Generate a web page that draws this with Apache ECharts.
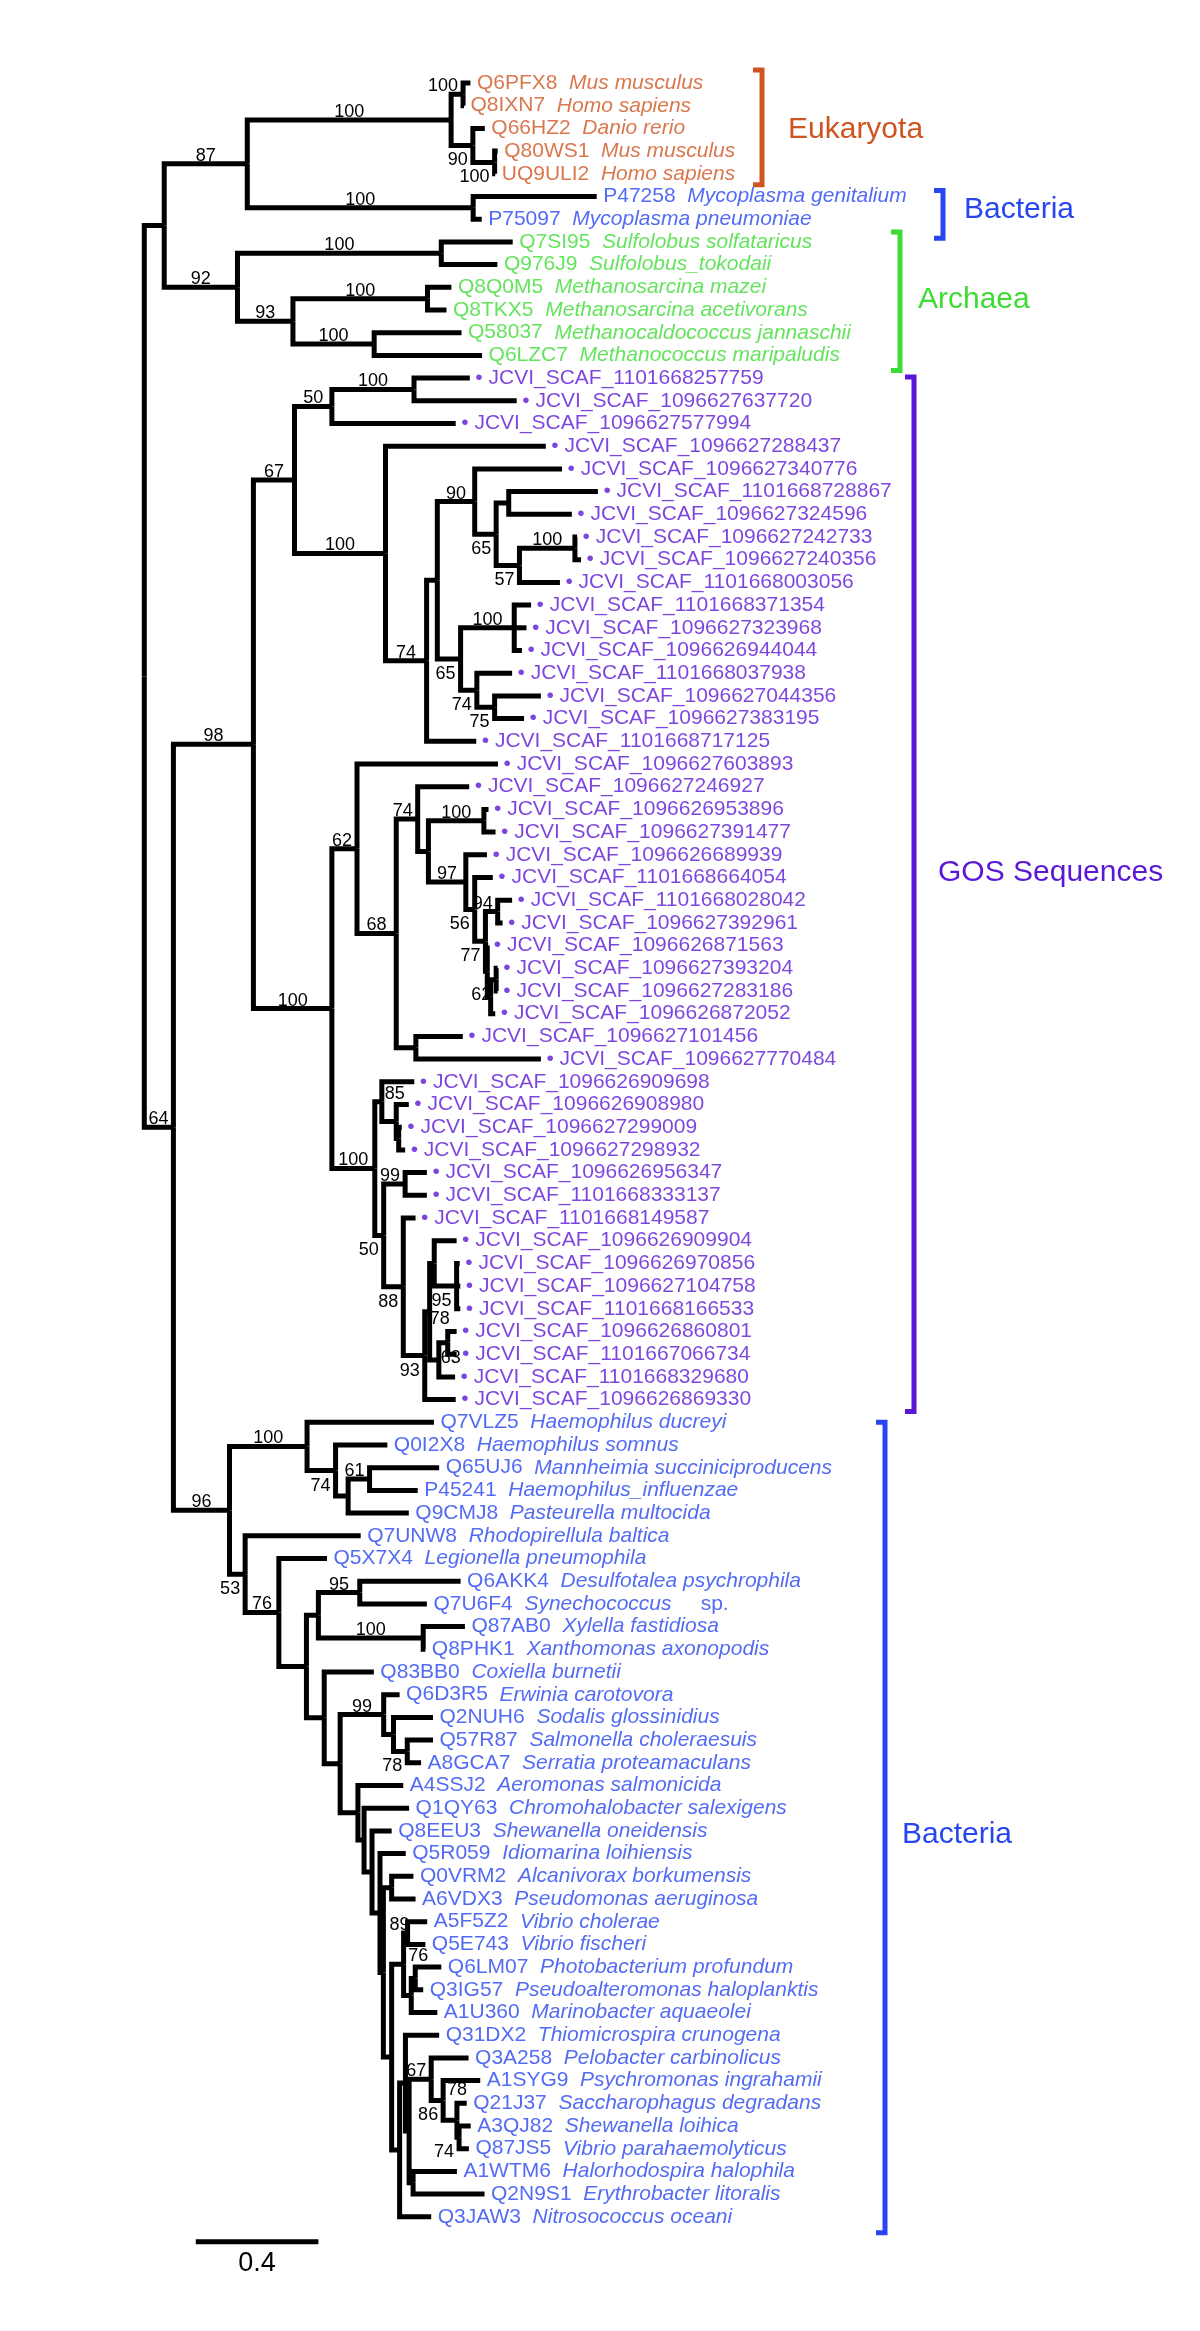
<!DOCTYPE html>
<html>
<head>
<meta charset="utf-8">
<script src="https://cdn.jsdelivr.net/npm/echarts@6/dist/echarts.min.js"></script>
<style>
html,body{margin:0;padding:0;background:#ffffff;}
#chart{width:1200px;height:2331px;}
</style>
</head>
<body>
<div id="chart"></div>
<script>
// ---------------- DATA ----------------
const eukaryota = [
  ["Q6PFX8","Mus musculus"],["Q8IXN7","Homo sapiens"],["Q66HZ2","Danio rerio"],
  ["Q80WS1","Mus musculus"],["UQ9ULI2","Homo sapiens"]
];
const archaea = [
  ["Q7SI95","Sulfolobus solfataricus"],["Q976J9","Sulfolobus_tokodaii"],
  ["Q8Q0M5","Methanosarcina mazei"],["Q8TKX5","Methanosarcina acetivorans"],
  ["Q58037","Methanocaldococcus jannaschii"],["Q6LZC7","Methanococcus maripaludis"]
];
const bacteria = [
  ["P47258","Mycoplasma genitalium"],["P75097","Mycoplasma pneumoniae"],
  ["Q7VLZ5","Haemophilus ducreyi"],["Q0I2X8","Haemophilus somnus"],
  ["Q65UJ6","Mannheimia succiniciproducens"],["P45241","Haemophilus_influenzae"],
  ["Q9CMJ8","Pasteurella multocida"],["Q7UNW8","Rhodopirellula baltica"],
  ["Q5X7X4","Legionella pneumophila"],["Q6AKK4","Desulfotalea psychrophila"],
  ["Q7U6F4","Synechococcus sp."],["Q87AB0","Xylella fastidiosa"],
  ["Q8PHK1","Xanthomonas axonopodis"],["Q83BB0","Coxiella burnetii"],
  ["Q6D3R5","Erwinia carotovora"],["Q2NUH6","Sodalis glossinidius"],
  ["Q57R87","Salmonella choleraesuis"],["A8GCA7","Serratia proteamaculans"],
  ["A4SSJ2","Aeromonas salmonicida"],["Q1QY63","Chromohalobacter salexigens"],
  ["Q8EEU3","Shewanella oneidensis"],["Q5R059","Idiomarina loihiensis"],
  ["Q0VRM2","Alcanivorax borkumensis"],["A6VDX3","Pseudomonas aeruginosa"],
  ["A5F5Z2","Vibrio cholerae"],["Q5E743","Vibrio fischeri"],
  ["Q6LM07","Photobacterium profundum"],["Q3IG57","Pseudoalteromonas haloplanktis"],
  ["A1U360","Marinobacter aquaeolei"],["Q31DX2","Thiomicrospira crunogena"],
  ["Q3A258","Pelobacter carbinolicus"],["A1SYG9","Psychromonas ingrahamii"],
  ["Q21J37","Saccharophagus degradans"],["A3QJ82","Shewanella loihica"],
  ["Q87JS5","Vibrio parahaemolyticus"],["A1WTM6","Halorhodospira halophila"],
  ["Q2N9S1","Erythrobacter litoralis"],["Q3JAW3","Nitrosococcus oceani"]
];
const gosScaffolds = [
  "1101668257759","1096627637720","1096627577994","1096627288437","1096627340776",
  "1101668728867","1096627324596","1096627242733","1096627240356","1101668003056",
  "1101668371354","1096627323968","1096626944044","1101668037938","1096627044356",
  "1096627383195","1101668717125","1096627603893","1096627246927","1096626953896",
  "1096627391477","1096626689939","1101668664054","1101668028042","1096627392961",
  "1096626871563","1096627393204","1096627283186","1096626872052","1096627101456",
  "1096627770484","1096626909698","1096626908980","1096627299009","1096627298932",
  "1096626956347","1101668333137","1101668149587","1096626909904","1096626970856",
  "1096627104758","1101668166533","1096626860801","1101667066734","1101668329680",
  "1096626869330"
];

// Tree topology, bootstrap values and branch lengths (Newick pieces)
const eukaryotaTree = "((Q6PFX8:0.024,Q8IXN7:0.003)100:0.039,(Q66HZ2:0.039,(Q80WS1:0.010,UQ9ULI2:0.002)100:0.071)90:0.071)100";
const mycoplasmaTree = "(P47258:0.403,P75097:0.028)100";
const archaeaTree = "((Q7SI95:0.233,Q976J9:0.183)100:0.665,((Q8Q0M5:0.078,Q8TKX5:0.062)100:0.439,(Q58037:0.285,Q6LZC7:0.352)100:0.265)93:0.181)92";

const gos50 = "((1101668257759:0.182,1096627637720:0.335)100:0.268,1096627577994:0.404)50";
const gos65 = "((1096627340776:0.285,((1101668728867:0.291,1096627324596:0.206):0.041,((1096627242733:0.007,1096627240356:0.020)100:0.181,1101668003056:0.132)57:0.076)65:0.070)90:0.122,((1101668371354:0.055,1096627323968:0.040,1096626944044:0.025)100:0.175,(1101668037938:0.115,(1096627044356:0.151,1096627383195:0.096)75:0.058)74:0.053)65:0.076)";
const gosCladeA = `(${gos50}:0.122,(1096627288437:0.523,(${gos65}:0.035,1101668717125:0.162)74:0.134)100:0.297)67`;

const gos77 = "((1101668028042:0.047,1096627392961:0.016)94:0.040,(1096626871563:0.003,((1096627393204:0.005,1096627283186:0.005)62:0.018,1096626872052:0.015):0.011):0.006)77";
const gos97 = `(1096626689939:0.069,(1101668664054:0.059,${gos77}:0.035)56:0.029)97`;
const gos74 = `(1096627246927:0.168,((1096626953896:0.015,1096627391477:0.038)100:0.181,${gos97}:0.122):0.035)74`;
const gosCladeB = `(1096627603893:0.460,(${gos74}:0.070,(1096627101456:0.153,1096627770484:0.408):0.064)68:0.128)62`;

const gos85 = "(1096626909698:0.106,(1096626908980:0.041,(1096627299009:0.010,1096627298932:0.021):0.008):0.047)85";
const gos78 = "((1096626909904:0.073,(1096626970856:0.010,1096627104758:0.012,1101668166533:0.012)95:0.073):0.015,((1096626860801:0.029,1101667066734:0.029)63:0.029,1101668329680:0.053):0.030)78";
const gosCladeC = `(${gos85}:0.023,((1096626956347:0.071,1101668333137:0.071)99:0.070,(1101668149587:0.040,(${gos78}:0.016,1096626869330:0.101)93:0.070)88:0.064)50:0.029)100`;

const gosTree = `(${gosCladeA}:0.134,(${gosCladeB}:0.082,${gosCladeC}:0.140)100:0.256)98`;

const bactLower = "((Q31DX2:0.110,((Q3A258:0.122,(A1SYG9:0.121,(Q21J37:0.032,(A3QJ82:0.038,Q87JS5:0.032)74:0.007)78:0.045)86:0.039)67:0.072,(A1WTM6:0.143,Q2N9S1:0.233):0.013):0.012):0.019,Q3JAW3:0.103)";
const bactVibrio = "((A5F5Z2:0.064,Q5E743:0.058)89:0.013,((Q6LM07:0.085,Q3IG57:0.026)76:0.013,A1U360:0.085):0.025)";
const bactGamma = `(A4SSJ2:0.148,(Q1QY63:0.147,(Q8EEU3:0.064,(Q5R059:0.084,((Q0VRM2:0.071,A6VDX3:0.078):0.027,(${bactVibrio}:0.039,${bactLower}:0.026):0.027):0.011):0.026):0.026):0.020)`;
const bactEntero = "(Q6D3R5:0.052,(Q2NUH6:0.129,(Q57R87:0.084,A8GCA7:0.045)78:0.045):0.032)99";
const bactProteo = `(((Q6AKK4:0.329,Q7U6F4:0.219)95:0.135,(Q87AB0:0.136,Q8PHK1:0.007)100:0.342):0.039,(Q83BB0:0.162,(${bactEntero}:0.142,${bactGamma}:0.058):0.052):0.058)`;
const bactHaem = "(Q7VLZ5:0.414,(Q0I2X8:0.169,((Q65UJ6:0.227,P45241:0.157)61:0.070,Q9CMJ8:0.198):0.041)74:0.093)100";
const bacteriaTree = `(${bactHaem}:0.253,(Q7UNW8:0.377,(Q5X7X4:0.157,${bactProteo}:0.090)76:0.110)53:0.051)96`;

const treeNewick = `(((${eukaryotaTree}:0.665,${mycoplasmaTree}:0.737)87:0.271,${archaeaTree}:0.239):0.065,(${gosTree}:0.261,${bacteriaTree}:0.183)64:0.095);`;

// clade brackets: label, first leaf, last leaf
const clades = [
  ["Eukaryota","Q6PFX8","UQ9ULI2"],
  ["Bacteria","P47258","P75097"],
  ["Archaea","Q7SI95","Q6LZC7"],
  ["GOS Sequences","1101668257759","1096626869330"],
  ["Bacteria","Q7VLZ5","Q3JAW3"]
];
const scaleBar = [0.168, 0.4]; // start, length (substitutions per site)

// ---------------- STYLE ----------------
const FONT = '"Liberation Sans", Arial, Helvetica, sans-serif';
const COLORS = {euk:'#CF5520', bac:'#2846F0', arc:'#3DDC34', gos:'#5B17D6'};
const LINE_W = 5;
const cladeStyle = [
  {x:762, padTop:13, padBottom:11, labelX:788, labelDy:2, color:COLORS.euk},
  {x:943, padTop:6, padBottom:19, labelX:964, labelDy:-5, color:COLORS.bac},
  {x:900, padTop:10, padBottom:15, labelX:918, labelDy:-1, color:COLORS.arc},
  {x:914, padTop:1, padBottom:12, labelX:938, labelDy:-22, color:COLORS.gos},
  {x:885, padTop:0, padBottom:16, labelX:902, labelDy:7, color:COLORS.bac}
];
const bootstrapBelow = ['90@Q66HZ2','100@Q80WS1','65@1101668728867','57@1096627242733',
  '65@1101668371354','74@1101668037938','75@1096627044356','56@1101668664054',
  '77@1101668028042','62@1096627393204','50@1096626956347','88@1101668149587',
  '93@1096626909904','78@1096626909904','95@1096626970856','63@1096626860801',
  '74@Q0I2X8','53@Q7UNW8','78@Q57R87','86@A1SYG9','74@A3QJ82'];
const bootstrapShift = {'85@1096626909698':[28,0], '78@1096626909904':[25,-8],
  '63@1096626860801':[18,0], '76@Q6LM07':[18,-14], '78@Q21J37':[15,-22], '89@A5F5Z2':[7,0]};

// ---------------- TREE PARSING / LAYOUT ----------------
function parseNewick(str) {
  const s = str.replace(/\s+/g, '');
  let i = 0;
  function node() {
    const n = {children: []};
    if (s[i] === '(') {
      i++;
      n.children.push(node());
      while (s[i] === ',') { i++; n.children.push(node()); }
      if (s[i] !== ')') throw new Error('Newick parse error at ' + i);
      i++;
    }
    let name = '';
    while (i < s.length && !',():;'.includes(s[i])) name += s[i++];
    n.name = name;
    n.length = 0;
    if (s[i] === ':') {
      i++;
      let bl = '';
      while (i < s.length && !',();'.includes(s[i])) bl += s[i++];
      n.length = parseFloat(bl);
    }
    return n;
  }
  return node();
}
const tree = parseNewick(treeNewick);
const leaves = [], nodes = [];
(function layout(n, parent) {
  n.parent = parent;
  n.x = parent ? parent.x + n.length : 0;
  nodes.push(n);
  if (!n.children.length) { n.y = leaves.length; leaves.push(n); }
  else {
    n.children.forEach(c => layout(c, n));
    n.y = (n.children[0].y + n.children[n.children.length - 1].y) / 2;
  }
})(tree, null);

const groupOf = {}, speciesOf = {};
eukaryota.forEach(([id, sp]) => { groupOf[id] = 'euk'; speciesOf[id] = sp; });
archaea.forEach(([id, sp]) => { groupOf[id] = 'arc'; speciesOf[id] = sp; });
bacteria.forEach(([id, sp]) => { groupOf[id] = 'bac'; speciesOf[id] = sp; });
gosScaffolds.forEach(id => { groupOf[id] = 'gos'; });
const leafIndex = {};
leaves.forEach(l => leafIndex[l.name] = l.y);

function firstLeaf(n) { while (n.children.length) n = n.children[0]; return n.name; }

const edgeData = nodes.filter(n => n.parent).map(n => [n.parent.x, n.parent.y, n.x, n.y]);
const bootNodes = nodes.filter(n => n.children.length && n.name && n.parent);
const bootData = bootNodes.map(n => [n.parent.x, n.x, n.y]);
const bootText = bootNodes.map(n => n.name);
const bootKey = bootNodes.map(n => n.name + '@' + firstLeaf(n));

const leafData = leaves.map(l => ({
  value: [l.x, l.y], name: l.name, group: groupOf[l.name],
  label: {distance: groupOf[l.name] === 'gos' ? 5 : 6}
}));

const rich = {};
['euk','bac','arc','gos'].forEach(g => {
  rich[g + 'Id'] = {color: COLORS[g], fontSize: 21, fontFamily: FONT, lineHeight: 24};
  rich[g + 'Sp'] = {color: COLORS[g], fontSize: 21, fontFamily: FONT, fontStyle: 'italic', lineHeight: 24};
});

// ---------------- CHART ----------------
const chart = echarts.init(document.getElementById('chart'), null, {renderer: 'canvas'});
const X_PX = 306.5, Y_PX = 22.7;
chart.setOption({
  animation: false,
  backgroundColor: '#ffffff',
  grid: {left: 144.3, top: 83 - 3 * Y_PX, width: 3 * X_PX, height: 100 * Y_PX, containLabel: false},
  xAxis: {type: 'value', min: 0, max: 3, show: false},
  yAxis: {type: 'value', min: -3, max: 97, inverse: true, show: false},
  series: [
    {
      type: 'custom', name: 'branches', coordinateSystem: 'cartesian2d', clip: false, silent: true,
      data: edgeData, encode: {x: [0, 2], y: [1, 3]},
      renderItem(params, api) {
        const p0 = api.coord([api.value(0), api.value(1)]);
        const p1 = api.coord([api.value(0), api.value(3)]);
        const p2 = api.coord([api.value(2), api.value(3)]);
        return {type: 'polyline', shape: {points: [p0, p1, p2]},
          style: {stroke: '#000', lineWidth: LINE_W, fill: null, lineJoin: 'miter', lineCap: 'butt'}};
      }
    },
    {
      type: 'scatter', name: 'leaves', data: leafData, symbolSize: 1, silent: true,
      itemStyle: {color: 'rgba(0,0,0,0)'},
      label: {
        show: true, position: 'right', rich,
        formatter(p) {
          const d = p.data, g = d.group;
          if (g === 'gos') return `{gosId|• JCVI_SCAF_${d.name}}`;
          const sp = speciesOf[d.name];
          if (sp.endsWith(' sp.')) return `{${g}Id|${d.name}  }{${g}Sp|${sp.slice(0, -4)}}{${g}Id|     sp.}`;
          return `{${g}Id|${d.name}  }{${g}Sp|${sp}}`;
        }
      }
    },
    {
      type: 'custom', name: 'bootstrap', coordinateSystem: 'cartesian2d', clip: false, silent: true,
      data: bootData, encode: {x: [0, 1], y: 2},
      renderItem(params, api) {
        const i = params.dataIndex, text = bootText[i];
        const below = bootstrapBelow.includes(bootKey[i]);
        const shift = bootstrapShift[bootKey[i]] || [0, 0];
        const a = api.coord([api.value(0), api.value(2)]);
        const b = api.coord([api.value(1), api.value(2)]);
        const w = text.length * 0.556 * 18;
        const right = Math.min((a[0] + b[0]) / 2 + w / 2, b[0] - 5) + shift[0];
        return {type: 'text', x: right, y: (below ? b[1] + 6 : b[1] + 1) + shift[1],
          style: {text, fill: '#000', font: `18px ${FONT}`, align: 'right', verticalAlign: below ? 'top' : 'bottom'}};
      }
    },
    {
      type: 'custom', name: 'clades', coordinateSystem: 'cartesian2d', clip: false, silent: true,
      data: clades.map((c, i) => [0, leafIndex[c[1]], leafIndex[c[2]], i]), encode: {x: 0, y: [1, 2]},
      renderItem(params, api) {
        const i = params.dataIndex, s = cladeStyle[i];
        const top = api.coord([0, api.value(1)])[1] - s.padTop;
        const bot = api.coord([0, api.value(2)])[1] + s.padBottom;
        return {type: 'group', children: [
          {type: 'polyline', shape: {points: [[s.x - 9, top], [s.x, top], [s.x, bot], [s.x - 9, bot]]},
            style: {stroke: s.color, lineWidth: 5, fill: null, lineJoin: 'miter'}},
          {type: 'text', x: s.labelX, y: (top + bot) / 2 + s.labelDy,
            style: {text: clades[i][0], fill: s.color, font: `30px ${FONT}`, align: 'left', verticalAlign: 'middle'}}
        ]};
      }
    },
    {
      type: 'custom', name: 'scalebar', coordinateSystem: 'cartesian2d', clip: false, silent: true,
      data: [[scaleBar[0], scaleBar[0] + scaleBar[1], leaves.length + 0.1]], encode: {x: [0, 1], y: 2},
      renderItem(params, api) {
        const a = api.coord([api.value(0), api.value(2)]);
        const b = api.coord([api.value(1), api.value(2)]);
        return {type: 'group', children: [
          {type: 'line', shape: {x1: a[0], y1: a[1], x2: b[0], y2: b[1]}, style: {stroke: '#000', lineWidth: LINE_W}},
          {type: 'text', x: (a[0] + b[0]) / 2, y: a[1] + 22,
            style: {text: String(scaleBar[1]), fill: '#000', font: `27px ${FONT}`, align: 'center', verticalAlign: 'middle'}}
        ]};
      }
    }
  ]
});
</script>
</body>
</html>
